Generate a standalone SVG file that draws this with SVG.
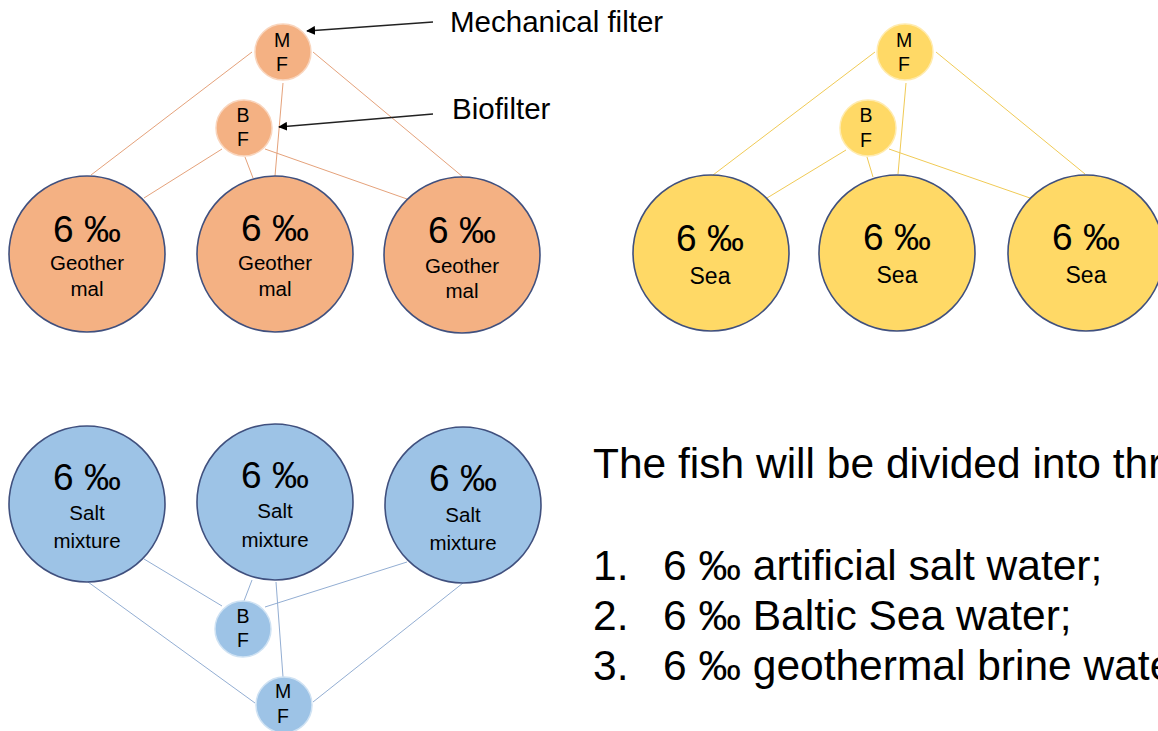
<svg xmlns="http://www.w3.org/2000/svg" width="1158" height="731" viewBox="0 0 1158 731">
<defs>
<marker id="arr" viewBox="0 0 10 10" refX="9" refY="5" markerWidth="9" markerHeight="9" markerUnits="userSpaceOnUse" orient="auto">
<path d="M0,0 L10,5 L0,10 Z" fill="#000"/>
</marker>
<style>
text{font-family:"Liberation Sans",Arial,sans-serif;fill:#000;text-anchor:middle}
.big{stroke:#40507E;stroke-width:1.6}
.or{fill:#F4B183}
.ye{fill:#FFD966}
.bl{fill:#9DC3E6}
.smo{fill:#F4B183;stroke:#F9D5BD;stroke-width:1.5}
.smy{fill:#FFD966;stroke:#FFEBAE;stroke-width:1.5}
.smb{fill:#9DC3E6;stroke:#CFE2F3;stroke-width:1.5}
.pct{font-size:37px}
.lab{font-size:20.5px}
.sea{font-size:23px}
.sl{font-size:19.5px}
.co{stroke:#E5A27B;stroke-width:1;fill:none}
.cy{stroke:#F0CA55;stroke-width:1;fill:none}
.cb{stroke:#93AED3;stroke-width:1;fill:none}
.ann{stroke:#222;stroke-width:1.5;fill:none}
.note{font-size:29.5px;text-anchor:start}
.main{font-size:42.5px;text-anchor:start}
</style>
</defs>
<rect width="1158" height="731" fill="#fff"/>
<g id="connectors">
<line class="co" x1="252" y1="52" x2="91" y2="175"/>
<line class="co" x1="283" y1="83" x2="275" y2="176"/>
<line class="co" x1="313" y1="52" x2="463" y2="177"/>
<line class="co" x1="222" y1="149" x2="144" y2="198"/>
<line class="co" x1="245" y1="157" x2="253" y2="178"/>
<line class="co" x1="265" y1="149" x2="407" y2="199"/>
<line class="cy" x1="875" y1="52" x2="713" y2="175"/>
<line class="cy" x1="906" y1="83" x2="898" y2="174"/>
<line class="cy" x1="936" y1="52" x2="1085" y2="174"/>
<line class="cy" x1="846" y1="150" x2="767" y2="198"/>
<line class="cy" x1="867" y1="157" x2="873" y2="177"/>
<line class="cy" x1="889" y1="149" x2="1030" y2="198"/>
<line class="cb" x1="88" y1="582" x2="255" y2="703"/>
<line class="cb" x1="144" y1="559" x2="222" y2="606"/>
<line class="cb" x1="252" y1="580" x2="244" y2="601"/>
<line class="cb" x1="276" y1="582" x2="283" y2="677"/>
<line class="cb" x1="407" y1="562" x2="265" y2="607"/>
<line class="cb" x1="463" y1="583" x2="313" y2="702"/>
<line class="ann" x1="433" y1="22" x2="307" y2="31" marker-end="url(#arr)"/>
<line class="ann" x1="433" y1="114" x2="279" y2="127" marker-end="url(#arr)"/>
</g>
<g id="tl-mf"><circle class="smo" cx="283" cy="52" r="28"/><text class="sl" x="282" y="47">M</text><text class="sl" x="282" y="71">F</text></g>
<g id="tl-bf"><circle class="smo" cx="244" cy="128" r="28"/><text class="sl" x="243" y="122">B</text><text class="sl" x="243" y="146">F</text></g>
<g id="tl-c1"><circle class="big or" cx="87" cy="254" r="78"/><text class="pct" x="87" y="242">6 ‰</text><text class="lab" x="87" y="270">Geother</text><text class="lab" x="87" y="296">mal</text></g>
<g id="tl-c2"><circle class="big or" cx="275" cy="254" r="78"/><text class="pct" x="275" y="241">6 ‰</text><text class="lab" x="275" y="270">Geother</text><text class="lab" x="275" y="296">mal</text></g>
<g id="tl-c3"><circle class="big or" cx="462" cy="255" r="78"/><text class="pct" x="462" y="243">6 ‰</text><text class="lab" x="462" y="273">Geother</text><text class="lab" x="462" y="298">mal</text></g>
<g id="tr-mf"><circle class="smy" cx="905" cy="52" r="28"/><text class="sl" x="904" y="47">M</text><text class="sl" x="904" y="71">F</text></g>
<g id="tr-bf"><circle class="smy" cx="868" cy="128" r="28"/><text class="sl" x="866" y="122">B</text><text class="sl" x="866" y="147">F</text></g>
<g id="tr-c1"><circle class="big ye" cx="711" cy="253" r="78"/><text class="pct" x="710" y="251">6 ‰</text><text class="sea" x="710" y="284">Sea</text></g>
<g id="tr-c2"><circle class="big ye" cx="897" cy="253" r="78"/><text class="pct" x="897" y="250">6 ‰</text><text class="sea" x="897" y="283">Sea</text></g>
<g id="tr-c3"><circle class="big ye" cx="1086" cy="253" r="78"/><text class="pct" x="1086" y="250">6 ‰</text><text class="sea" x="1086" y="283">Sea</text></g>
<g id="b-c1"><circle class="big bl" cx="87" cy="504" r="78"/><text class="pct" x="87" y="490">6 ‰</text><text class="lab" x="87" y="520">Salt</text><text class="lab" x="87" y="548">mixture</text></g>
<g id="b-c2"><circle class="big bl" cx="275" cy="502" r="78"/><text class="pct" x="275" y="488">6 ‰</text><text class="lab" x="275" y="518">Salt</text><text class="lab" x="275" y="547">mixture</text></g>
<g id="b-c3"><circle class="big bl" cx="463" cy="505" r="78"/><text class="pct" x="463" y="491">6 ‰</text><text class="lab" x="463" y="522">Salt</text><text class="lab" x="463" y="550">mixture</text></g>
<g id="b-bf"><circle class="smb" cx="243" cy="629" r="28"/><text class="sl" x="243" y="623">B</text><text class="sl" x="243" y="647">F</text></g>
<g id="b-mf"><circle class="smb" cx="284" cy="705" r="28"/><text class="sl" x="283" y="698">M</text><text class="sl" x="283" y="723">F</text></g>
<g id="labels">
<text class="note" x="450" y="32">Mechanical filter</text>
<text class="note" x="452" y="119">Biofilter</text>
</g>
<g id="description">
<text class="main" x="593" y="478">The fish will be divided into thr</text>
<text class="main" x="593" y="580">1.</text><text class="main" x="663" y="580">6 ‰ artificial salt water;</text>
<text class="main" x="593" y="630">2.</text><text class="main" x="663" y="630">6 ‰ Baltic Sea water;</text>
<text class="main" x="593" y="680">3.</text><text class="main" x="663" y="680">6 ‰ geothermal brine wate</text>
</g>
</svg>
